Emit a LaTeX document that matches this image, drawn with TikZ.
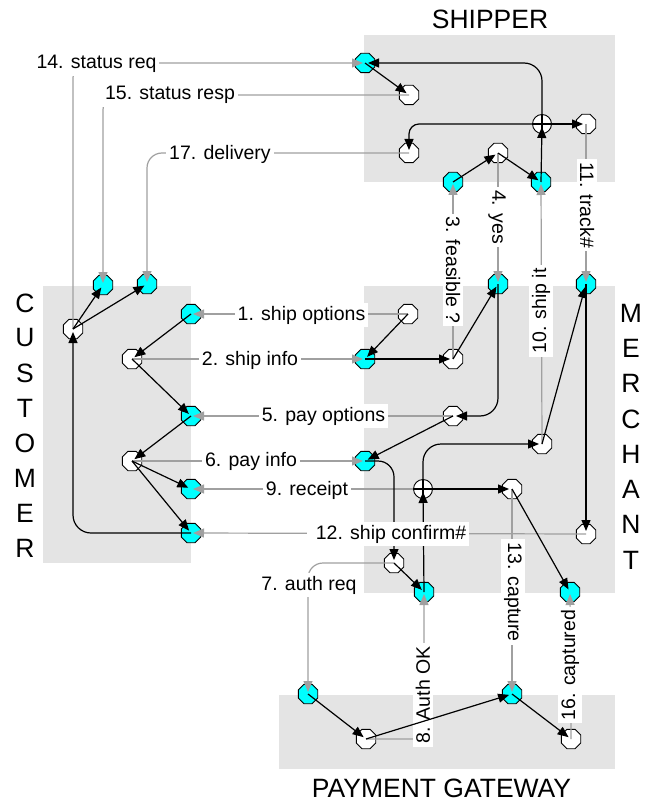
\documentclass[tikz,border=0pt]{standalone}
\usepackage{fontspec}
\setmainfont{Liberation Sans}
\usetikzlibrary{shapes.geometric,arrows.meta}
\definecolor{boxgray}{RGB}{228,228,228}
\definecolor{lgray}{RGB}{160,160,160}
\definecolor{cyanfill}{RGB}{0,255,255}
\begin{document}
\begin{tikzpicture}[x=1pt,y=-1pt,
  oct/.style={regular polygon, regular polygon sides=8, minimum size=21pt, inner sep=0pt, draw=black, line width=0.9pt},
  cy/.style={oct, fill=cyanfill},
  wh/.style={oct, fill=white},
  xnode/.style={circle, minimum size=19pt, inner sep=0pt, draw=black, line width=0.9pt, fill=white,
    path picture={\draw[line width=1.1pt] (path picture bounding box.north) -- (path picture bounding box.south)
      (path picture bounding box.west) -- (path picture bounding box.east);}},
  flow/.style={draw=black, line width=1.2pt, -{Triangle[length=11pt,width=9pt]}, shorten >=3pt},
  msg/.style={draw=lgray, line width=1.2pt, -{Triangle[length=11pt,width=9pt]}, shorten >=2pt},
  lbl/.style={fill=white, font=\fontsize{19.5}{22}\selectfont, inner xsep=3pt, inner ysep=3pt},
  big/.style={font=\fontsize{26.5}{30}\selectfont, inner sep=0pt},
  lane/.style={fill=boxgray}
]
\useasboundingbox (0,0) rectangle (651,802);
% lanes
\fill[lane] (364,35) rectangle (615,182);
\fill[lane] (43,286) rectangle (191,563);
\fill[lane] (364,286) rectangle (615,593);
\fill[lane] (279,695) rectangle (615,769);
% lane titles
\node[big] (tship) at (490,19) {SHIPPER};
\node[big] (tpay) at (441.5,788) {PAYMENT GATEWAY};
\foreach \l [count=\i from 0] in {C,U,S,T,O,M,E,R}
  \node[big] (cu\i) at (25,303+35*\i) {\l};
\foreach \l [count=\i from 0] in {M,E,R,C,H,A,N,T}
  \node[big] (me\i) at (631,313+35.3*\i) {\l};
% shipper nodes
\node[cy] (S1) at (365,63) {};
\node[wh] (S2) at (409,95) {};
\node[xnode] (S3) at (542,124) {};
\node[wh] (S4) at (586,124) {};
\node[wh] (S5) at (409,153) {};
\node[wh] (S6) at (498,153) {};
\node[cy] (S7) at (453,182) {};
\node[cy] (S8) at (541,182) {};
% customer nodes
\node[cy] (C1) at (103,285) {};
\node[cy] (C2) at (147,284) {};
\node[wh] (C3) at (73,329) {};
\node[cy] (C4) at (191,314) {};
\node[wh] (C5) at (132,359) {};
\node[cy] (C6) at (191,416) {};
\node[wh] (C7) at (132,461) {};
\node[cy] (C8) at (191,489) {};
\node[cy] (C9) at (191,533) {};
% merchant nodes
\node[wh] (M3) at (408,314) {};
\node[cy] (M2) at (365,359) {};
\node[wh] (M4) at (453,359) {};
\node[cy] (M5) at (498,284) {};
\node[cy] (M6) at (586,284) {};
\node[wh] (M7) at (453,416) {};
\node[cy] (M8) at (365,461) {};
\node[wh] (M9) at (542,444) {};
\node[xnode] (M10) at (423,489) {};
\node[wh] (M11) at (512,489) {};
\node[wh] (M12) at (586,534) {};
\node[wh] (M13) at (394,563) {};
\node[cy] (M14) at (424,592) {};
\node[cy] (M15) at (570,592) {};
% payment nodes
\node[cy] (P1) at (308,694) {};
\node[wh] (P2) at (366,739) {};
\node[cy] (P3) at (512,694) {};
\node[wh] (P4) at (571,739) {};
% message (gray) connectors
\draw[msg, rounded corners=15pt] (C3.center) -- (73,63) -- (S1.center);
\draw[msg, rounded corners=15pt] (S2.center) -- (103,95) -- (C1.center);
\draw[msg, rounded corners=15pt] (S5.center) -- (147,153) -- (C2.center);
\draw[msg] (M3.center) -- (C4.center);
\draw[msg] (C5.center) -- (M2.center);
\draw[msg] (M7.center) -- (C6.center);
\draw[msg] (C7.center) -- (M8.center);
\draw[msg] (M10.west) -- (C8.center);
\draw[msg] (M12.center) -- (C9.center);
\draw[msg] (M4.center) -- (S7.center);
\draw[msg] (S6.center) -- (M5.center);
\draw[msg] (M9.center) -- (S8.center);
\draw[msg] (S4.center) -- (M6.center);
\draw[msg, rounded corners=15pt] (M13.center) -- (308,563) -- (P1.center);
\draw[msg, rounded corners=10pt] (P2.center) -- (424,739) -- (M14.center);
\draw[msg] (M11.center) -- (P3.center);
\draw[msg] (P4.center) -- (M15.center);
% flow (black) connectors
\draw[flow] (S1.center) -- (S2.center);
\draw[flow] (S7.center) -- (S6.center);
\draw[flow] (S6.center) -- (S8.center);
\draw[flow] (S8.center) -- (S3.center);
\draw[flow] (S3.center) -- (S4.center);
\draw[flow, rounded corners=18pt] (S3.center) -- (542,63) -- (S1.center);
\draw[flow, rounded corners=10pt] (S3.center) -- (409,124) -- (S5.center);
\draw[flow] (C3.center) -- (C1.center);
\draw[flow] (C3.center) -- (C2.center);
\draw[flow] (C4.center) -- (C5.center);
\draw[flow] (C5.center) -- (C6.center);
\draw[flow] (C6.center) -- (C7.center);
\draw[flow] (C7.center) -- (C8.center);
\draw[flow] (C7.center) -- (C9.center);
\draw[flow, rounded corners=18pt] (C9.center) -- (73,533) -- (C3.center);
\draw[flow] (M3.center) -- (M2.center);
\draw[flow] (M2.center) -- (M4.center);
\draw[flow] (M4.center) -- (M5.center);
\draw[flow, rounded corners=18pt] (M5.center) -- (498,416) -- (M7.center);
\draw[flow] (M7.center) -- (M8.center);
\draw[flow, rounded corners=16pt] (M8.center) -- (394,461) -- (M13.center);
\draw[flow] (M9.center) -- (M6.center);
\draw[flow] (M6.center) -- (M12.center);
\draw[flow] (M14.center) -- (M10.center);
\draw[flow, rounded corners=18pt] (M10.center) -- (423,444) -- (M9.center);
\draw[flow] (M10.center) -- (M11.center);
\draw[flow] (M11.center) -- (M15.center);
\draw[flow] (M13.center) -- (M14.center);
\draw[flow] (P1.center) -- (P2.center);
\draw[flow] (P3.center) -- (P4.center);
% labels
\node[lbl] (l14) at (96.5,64) {14. status req};
\node[lbl] (l15) at (170,95) {15. status resp};
\node[lbl] (l17) at (220,154) {17. delivery};
\node[lbl] (l1) at (301.5,315) {1. ship options};
\node[lbl] (l2) at (250,360) {2. ship info};
\node[lbl] (l5) at (323.5,416) {5. pay options};
\node[lbl] (l6) at (251,461) {6. pay info};
\node[lbl] (l9) at (307,490) {9. receipt};
\node[lbl] (l12) at (388,534) {\hspace{6pt}12. ship confirm\#};
\node[lbl, rotate=-90] (l3) at (453,270) {3. feasible ?};
\node[lbl, rotate=-90] (l4) at (497,217) {4. yes};
\node[lbl, rotate=90] (l10) at (541,311) {10. ship it};
\node[lbl, rotate=-90] (l11) at (587,205) {11. track\#};
\node[lbl] (l7) at (309,585) {7. auth req};
\node[lbl, rotate=90] (l8) at (423,695) {8. Auth OK};
\node[lbl, rotate=-90] (l13) at (513,592) {13. capture};
\node[lbl, rotate=90] (l16) at (570,665) {16. captured};
% flow drawn over a label
\draw[flow] (P2.center) -- (P3.center);
\end{tikzpicture}
\end{document}
